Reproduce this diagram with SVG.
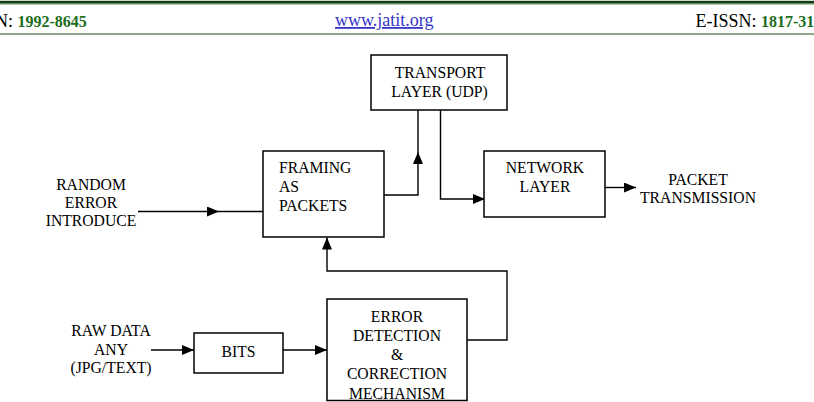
<svg xmlns="http://www.w3.org/2000/svg" width="814" height="402" viewBox="0 0 814 402">
<style>
  .box { fill: #ffffff; stroke: #000000; stroke-width: 1.5; }
  .conn { fill: none; stroke: #000000; stroke-width: 1.4; }
  .t { font-family: "Liberation Serif", "Times New Roman", serif; font-size: 15.7px; fill: #000000; }
  .c { text-anchor: middle; }
  .hd { font-family: "Liberation Serif", "Times New Roman", serif; font-size: 18px; fill: #000000; }
  .num { font-weight: bold; font-size: 16px; fill: #1b6e1b; }
  .url { fill: #3535c8; text-decoration: underline; }
</style>
<defs>
  <marker id="arr" markerUnits="userSpaceOnUse" markerWidth="12" markerHeight="10" refX="12" refY="5" orient="auto">
    <path d="M0,0 L12,5 L0,10 Z" fill="#000000"/>
  </marker>
  <clipPath id="clipErr">
    <rect x="327" y="299" width="140" height="100"/>
  </clipPath>
</defs>
<rect x="0" y="0" width="814" height="402" fill="#ffffff"/>

<g id="header">
  <rect x="0" y="0.8" width="814" height="2.8" fill="#0f3d0f"/>
  <line x1="0" y1="4.2" x2="814" y2="4.2" stroke="#6f936a" stroke-width="0.8"/>
  <line x1="0" y1="34" x2="814" y2="34" stroke="#6b8a62" stroke-width="1.3"/>
  <text class="hd" x="-5" y="26.5">N: <tspan class="num">1992-8645</tspan></text>
  <text class="hd url" x="335" y="26">www.jatit.org</text>
  <text class="hd" x="695.5" y="26.5">E-ISSN: <tspan class="num">1817-31</tspan></text>
</g>

<g id="connectors">
  <path class="conn" d="M138,211.5 H219" marker-end="url(#arr)"/>
  <path class="conn" d="M219,211.5 H263"/>
  <path class="conn" d="M384,195 H418 V152" marker-end="url(#arr)"/>
  <path class="conn" d="M418,152 V110"/>
  <path class="conn" d="M440.5,110 V199 H485" marker-end="url(#arr)"/>
  <path class="conn" d="M605,187.5 H636" marker-end="url(#arr)"/>
  <path class="conn" d="M151,350 H194" marker-end="url(#arr)"/>
  <path class="conn" d="M283,350 H327" marker-end="url(#arr)"/>
  <path class="conn" d="M467,340 H507 V271 H327 V237.5" marker-end="url(#arr)"/>
</g>

<g id="transport">
  <rect class="box" x="371" y="55" width="136" height="55"/>
  <text class="t c" x="440" y="78">TRANSPORT</text>
  <text class="t c" x="439.5" y="97">LAYER (UDP)</text>
</g>

<g id="framing">
  <rect class="box" x="263" y="151" width="121" height="86"/>
  <text class="t" x="279" y="173">FRAMING</text>
  <text class="t" x="279" y="192">AS</text>
  <text class="t" x="279" y="211">PACKETS</text>
</g>

<g id="network">
  <rect class="box" x="484" y="151" width="121" height="66"/>
  <text class="t c" x="545" y="173">NETWORK</text>
  <text class="t c" x="545" y="192">LAYER</text>
</g>

<g id="packet-transmission">
  <text class="t c" x="698" y="185">PACKET</text>
  <text class="t c" x="698" y="203">TRANSMISSION</text>
</g>

<g id="random-error">
  <text class="t c" x="91" y="190">RANDOM</text>
  <text class="t c" x="91" y="208">ERROR</text>
  <text class="t c" x="91" y="226">INTRODUCE</text>
</g>

<g id="raw-data">
  <text class="t c" x="111" y="336">RAW DATA</text>
  <text class="t c" x="111" y="354.5">ANY</text>
  <text class="t c" x="111" y="373">(JPG/TEXT)</text>
</g>

<g id="bits">
  <rect class="box" x="194" y="333" width="89" height="40"/>
  <text class="t c" x="238.5" y="357">BITS</text>
</g>

<g id="error-detection">
  <rect class="box" x="327" y="299" width="140" height="101.5"/>
  <g clip-path="url(#clipErr)">
    <text class="t c" x="397" y="322">ERROR</text>
    <text class="t c" x="397" y="341">DETECTION</text>
    <text class="t c" x="397" y="360">&amp;</text>
    <text class="t c" x="397" y="378.5">CORRECTION</text>
    <text class="t c" x="397" y="398.5">MECHANISM</text>
  </g>
</g>
</svg>
